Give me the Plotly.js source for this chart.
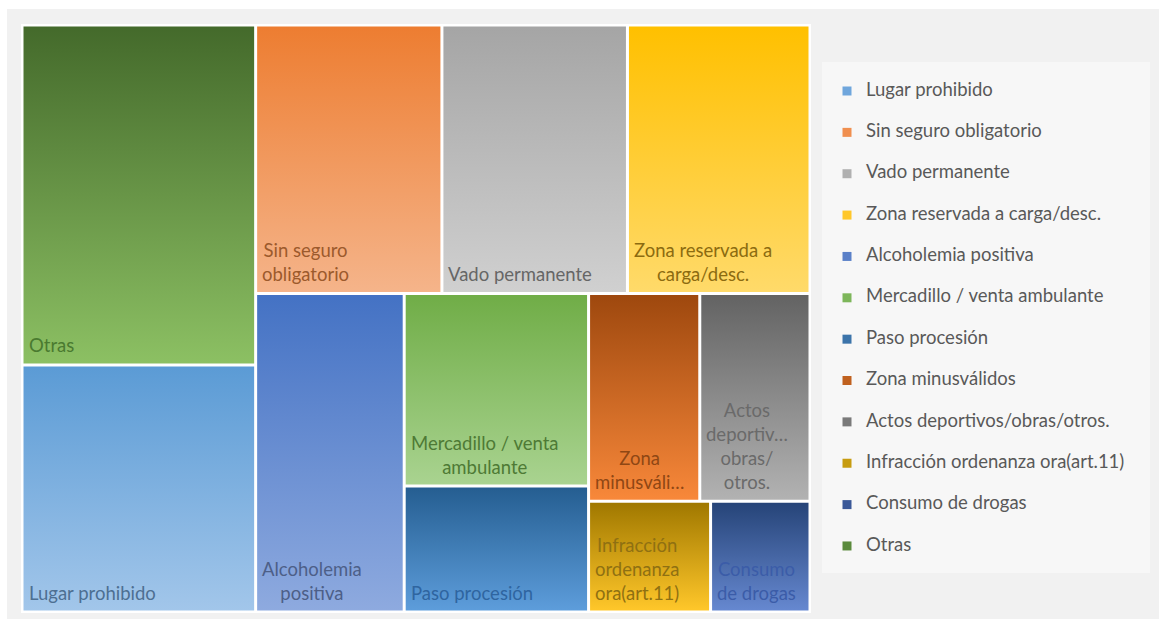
<!DOCTYPE html>
<html><head><meta charset="utf-8">
<script src="https://cdn.plot.ly/plotly-3.0.1.min.js"></script>
<style>html,body{margin:0;padding:0;background:#fff}</style>
</head><body><div id="chart" style="width:1159px;height:619px"></div>
<script>
// ---- data (legend order) ----
const categories = ["Lugar prohibido","Sin seguro obligatorio","Vado permanente","Zona reservada a carga/desc.","Alcoholemia positiva","Mercadillo / venta ambulante","Paso procesión","Zona minusválidos","Actos deportivos/obras/otros.","Infracción ordenanza ora(art.11)","Consumo de drogas","Otras"];
const values = [577, 500, 498, 490, 473, 355, 232, 231, 229, 135, 110, 794];
const cellLabels = ["Lugar prohibido","Sin seguro<br>obligatorio","Vado permanente","Zona reservada a<br>carga/desc.","Alcoholemia<br>positiva","Mercadillo / venta<br>ambulante","Paso procesión","Zona<br>minusváli…","Actos<br>deportiv…<br>obras/<br>otros.","Infracción<br>ordenanza<br>ora(art.11)","Consumo<br>de drogas","Otras"];

// ---- styles ----
const topColors    = ["#5b9bd5","#ed7d31","#a5a5a5","#ffc000","#4472c4","#70ad47","#255e91","#9e480e","#636363","#a07800","#264478","#446a2b"];
const bottomColors = ["#a2c6ea","#f5b48a","#d0d0d0","#ffda6a","#8eaadf","#a9d390","#5d9ddb","#f8883a","#b2b2b2","#ffc72a","#6688d0","#8cc063"];
const textColors   = ["#4d6f92","#9c5a2c","#666666","#8c6b10","#4d5f88","#4e7a35","#2f65a0","#8f4714","#6a6a6a","#8f7012","#3b5ca8","#4a7a30"];
const legendColors = ["#6fa6dc","#f08f4f","#b0b0b0","#ffc72a","#5a80c8","#7db65a","#3c74aa","#c0611f","#7a7a7a","#c79c10","#3a5898","#5a8a3c"];

const FIG_W = 1159, FIG_H = 619;
const PLOT = {x0: 22, x1: 810, y0: 25, y1: 612};
const LEG = {x0: 822, x1: 1150, y0: 62, y1: 573, firstY: 91, step: 41.36, markX: 25, textX: 44};
const W = PLOT.x1 - PLOT.x0, H = PLOT.y1 - PLOT.y0;
const GAP = 1.5;
const FS = 18.5;
const groups = [{n:2,o:'col'},{n:3,o:'row'},{n:1,o:'col'},{n:2,o:'col'},{n:2,o:'row'},{n:2,o:'row'}];

// ---- layout computed from values ----
const order = values.map((v,i)=>i).sort((a,b)=>values[b]-values[a]);
const total = values.reduce((a,b)=>a+b,0);
const k = W*H/total;
const cells = new Array(values.length);
let rx=0, ry=0, rw=W, rh=H, p=0;
groups.forEach(g=>{
  const idx = order.slice(p, p+g.n); p += g.n;
  const s = idx.reduce((a,i)=>a+values[i],0);
  if(g.o==='col'){
    const gw = s*k/rh; let cy = ry;
    idx.forEach(i=>{const h = rh*values[i]/s; cells[i]={x0:rx,x1:rx+gw,y0:cy,y1:cy+h}; cy+=h;});
    rx += gw; rw -= gw;
  } else {
    const gh = s*k/rw; let cx = rx;
    idx.forEach(i=>{const w = rw*values[i]/s; cells[i]={x0:cx,x1:cx+w,y0:ry,y1:ry+gh}; cx+=w;});
    ry += gh; rh -= gh;
  }
});

const FONT = 'Lato, "Open Sans", sans-serif';
const traces = [];
const annotations = [];
categories.forEach((c,i)=>{
  const b = cells[i];
  const a0=b.x0+GAP, a1=b.x1-GAP, c0=b.y0+GAP, c1=b.y1-GAP;
  traces.push({
    type:'scatter', mode:'lines', xaxis:'x', yaxis:'y',
    x:[a0,a1,a1,a0,a0], y:[c0,c0,c1,c1,c0],
    fill:'toself', fillcolor: topColors[i],
    fillgradient:{type:'vertical', start:c0, stop:c1, colorscale:[[0,topColors[i]],[1,bottomColors[i]]]},
    line:{width:0, color:'rgba(0,0,0,0)'},
    hoveron:'fills', hoverinfo:'text', text: c + ': ' + values[i],
    showlegend:false, name:c
  });
  annotations.push({
    xref:'x', yref:'y', x:a0+3, y:c1-5, xanchor:'left', yanchor:'bottom', align:'center',
    text: cellLabels[i], showarrow:false,
    font:{family:FONT, size:FS, color:textColors[i]}
  });
});

// manual legend drawn on its own axes
const idxs = categories.map((c,i)=>i);
traces.push({
  type:'scatter', mode:'markers', xaxis:'x2', yaxis:'y2',
  x: idxs.map(()=>LEG.markX), y: idxs,
  marker:{symbol:'square', size:9, color:legendColors},
  hoverinfo:'skip', showlegend:false
});
traces.push({
  type:'scatter', mode:'text', xaxis:'x2', yaxis:'y2',
  x: idxs.map(()=>LEG.textX), y: idxs, text: categories,
  textposition:'middle right',
  textfont:{family:FONT, size:FS, color:'#595959'},
  hoverinfo:'skip', showlegend:false
});

const legH = LEG.y1 - LEG.y0;
const rTop = -(LEG.firstY - LEG.y0)/LEG.step;
const rBot = rTop + legH/LEG.step;

const px = v => v/FIG_W, py = v => 1 - v/FIG_H;
const layout = {
  width: FIG_W, height: FIG_H,
  margin:{l:0,r:0,t:0,b:0,pad:0},
  paper_bgcolor:'#ffffff', plot_bgcolor:'rgba(0,0,0,0)',
  showlegend:false,
  font:{family:FONT},
  xaxis:{domain:[px(PLOT.x0), px(PLOT.x1)], range:[0,W], visible:false, fixedrange:true},
  yaxis:{domain:[py(PLOT.y1), py(PLOT.y0)], range:[H,0], visible:false, fixedrange:true},
  xaxis2:{domain:[px(LEG.x0), px(LEG.x1)], range:[0, LEG.x1-LEG.x0], visible:false, fixedrange:true, anchor:'y2'},
  yaxis2:{domain:[py(LEG.y1), py(LEG.y0)], range:[rBot, rTop], visible:false, fixedrange:true, anchor:'x2'},
  shapes:[
    {type:'rect', xref:'paper', yref:'paper', x0:px(7), x1:1, y0:0, y1:py(9), fillcolor:'#f1f1f1', line:{width:0}, layer:'below'},
    {type:'rect', xref:'paper', yref:'paper', x0:px(PLOT.x0-1), x1:px(PLOT.x1+1), y0:py(PLOT.y1+1), y1:py(PLOT.y0-1), fillcolor:'#ffffff', line:{width:0}, layer:'below'},
    {type:'rect', xref:'paper', yref:'paper', x0:px(LEG.x0), x1:px(LEG.x1), y0:py(LEG.y1), y1:py(LEG.y0), fillcolor:'#f7f7f7', line:{width:0}, layer:'below'}
  ],
  annotations: annotations
};
Plotly.newPlot('chart', traces, layout, {displayModeBar:false});
</script>
</body></html>
